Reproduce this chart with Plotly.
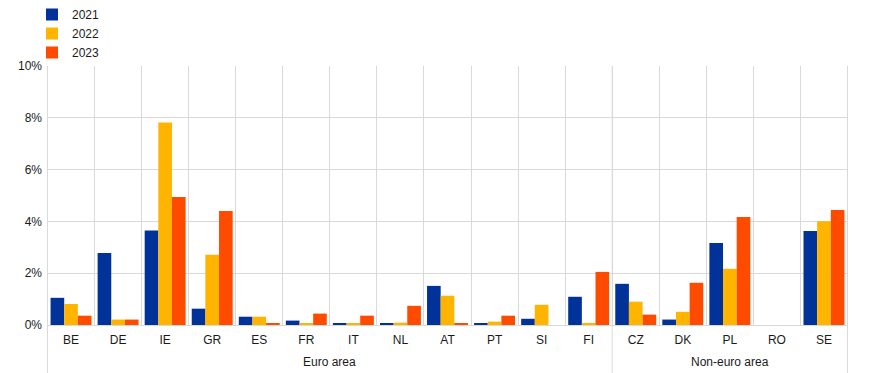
import plotly.graph_objects as go

countries = ["BE", "DE", "IE", "GR", "ES", "FR", "IT", "NL", "AT", "PT", "SI", "FI",
             "CZ", "DK", "PL", "RO", "SE"]
groups = ["Euro area"] * 12 + ["Non-euro area"] * 5
v2021 = [1.05, 2.78, 3.65, 0.63, 0.32, 0.17, 0.05, 0.05, 1.51, 0.04, 0.24, 1.09,
         1.59, 0.21, 3.17, 0.0, 3.63]
v2022 = [0.81, 0.21, 7.82, 2.71, 0.32, 0.05, 0.05, 0.09, 1.13, 0.13, 0.78, 0.08,
         0.90, 0.51, 2.17, 0.0, 4.01]
v2023 = [0.36, 0.21, 4.94, 4.40, 0.05, 0.44, 0.36, 0.74, 0.05, 0.36, 0.0, 2.05,
         0.40, 1.63, 4.17, 0.0, 4.44]
series = [("2021", v2021, "#003299"), ("2022", v2022, "#FFB400"), ("2023", v2023, "#FF4B00")]
yticks = [0, 2, 4, 6, 8, 10]
GRID = "#d9d9d9"

fig = go.Figure()
for name, vals, col in series:
    fig.add_trace(go.Bar(x=countries, y=vals, name=name,
                         marker=dict(color=col, line=dict(width=0))))

fig.update_layout(
    width=874, height=373,
    margin=dict(l=47, r=26, t=66, b=48, autoexpand=False),
    paper_bgcolor="white", plot_bgcolor="white",
    font=dict(family="Liberation Sans, Arial", size=12, color="#1a1a1a"),
    barmode="group", bargap=0.13, bargroupgap=0,
    showlegend=True,
    legend=dict(x=32 / 874, y=1.037, xref="container", yref="container",
                xanchor="left", yanchor="top", orientation="v",
                font=dict(size=12), tracegroupgap=0, bgcolor="rgba(0,0,0,0)"),
    xaxis=dict(type="category", showgrid=True, gridcolor=GRID, gridwidth=1,
               tickson="boundaries", ticks="", showline=False,
               tickfont=dict(size=12), ticklabelstandoff=6),
    yaxis=dict(range=[0, 10], tickvals=yticks, ticktext=[f"{v}%" for v in yticks],
               showgrid=True, gridcolor=GRID, gridwidth=1, zeroline=True,
               zerolinecolor=GRID, zerolinewidth=1, ticks="", tickfont=dict(size=12),
               showline=False, ticklabelstandoff=4),
)

# group labels and dividers
group_names = []
for g in groups:
    if g not in group_names:
        group_names.append(g)
bounds = [-0.5]
for gname in group_names:
    idx = [i for i, g in enumerate(groups) if g == gname]
    fig.add_annotation(x=(idx[0] + idx[-1]) / 2, y=-0.143, xref="x", yref="paper",
                       text=gname, showarrow=False, yanchor="middle",
                       font=dict(size=12, color="#1a1a1a"))
    bounds.append(idx[-1] + 0.5)
for b in bounds:
    fig.add_shape(type="line", xref="x", yref="paper", x0=b, x1=b, y0=1, y1=-0.19,
                  line=dict(color=GRID, width=1), layer="below")
fig.write_html("out.html")
